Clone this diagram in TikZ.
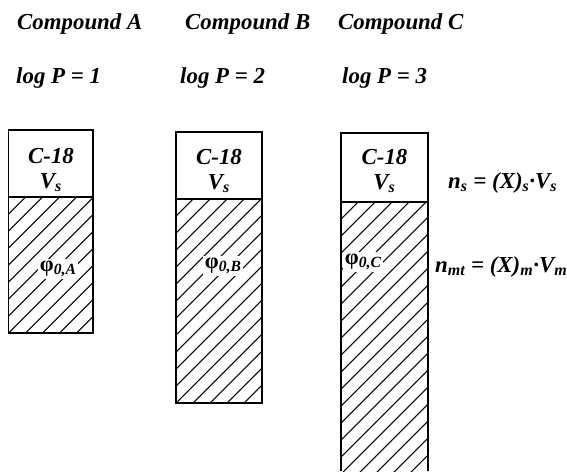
\documentclass[tikz,border=0pt]{standalone}
\usepackage{fontspec}
\setmainfont{Liberation Serif}
\usetikzlibrary{positioning}

\begin{document}
\begin{tikzpicture}[x=0.03cm, y=-0.03cm,
    every node/.style={font=\fontsize{19.5}{21}\selectfont\bfseries\itshape},
    head text/.style={anchor=base west, inner sep=0pt},
    cap box/.style={draw, line width=1.3pt},
    cap text/.style={align=center, inner sep=0pt},
    column side/.style={line width=1.3pt},
    hatch/.style={line width=0.9pt},
    phi label/.style={anchor=base west, fill=white, inner sep=1.5pt, font=\fontsize{19}{21}\selectfont\bfseries\itshape}]
    \useasboundingbox (0,0) rectangle (567,471);

    % headings
    \node[head text] (nameA) at (17,29) {Compound A};
    \node[head text] (nameB) at (185,29) {Compound B};
    \node[head text] (nameC) at (338,29) {Compound C};
    \node[head text] (logA) at (16,83) {log P = 1};
    \node[head text] (logB) at (180,83) {log P = 2};
    \node[head text] (logC) at (342,83) {log P = 3};

    % column A
    \begin{scope}
        \clip (8.7,197) rectangle (93,333);
        \foreach \k in {0,...,13}
            \draw[hatch] (8.7,197+17*\k) -- ++(86,-86);
    \end{scope}
    \draw[column side] (8.7,197) rectangle (93,333);
    \draw[cap box] (8.7,130) rectangle (93,197);
    \node[cap text] (capA) at (51,170) {C-18\\V\textsubscript{s}};
    \node[phi label] (phiA) at (38,271) {{\upshape φ}\textsubscript{0,A}};

    % column B
    \begin{scope}
        \clip (176,199) rectangle (262,403);
        \foreach \k in {0,...,17}
            \draw[hatch] (176,199+17*\k) -- ++(87,-87);
    \end{scope}
    \draw[column side] (176,199) rectangle (262,403);
    \draw[cap box] (176,132) rectangle (262,199);
    \node[cap text] (capB) at (219,171) {C-18\\V\textsubscript{s}};
    \node[phi label] (phiB) at (203,268) {{\upshape φ}\textsubscript{0,B}};

    % column C
    \begin{scope}
        \clip (341,202) rectangle (428,471);
        \foreach \k in {0,...,21}
            \draw[hatch] (341,202+17*\k) -- ++(88,-88);
    \end{scope}
    \draw[column side] (341,471) -- (341,202) -- (428,202) -- (428,471);
    \draw[cap box] (341,133) rectangle (428,202);
    \node[cap text] (capC) at (384.5,171) {C-18\\V\textsubscript{s}};
    \node[phi label] (phiC) at (343,264) {{\upshape φ}\textsubscript{0,C}};

    % amounts
    \node[head text] (ns) at (448,188) {n\textsubscript{s} = (X)\textsubscript{s}·V\textsubscript{s}};
    \node[head text] (nm) at (435,272) {n\textsubscript{mt} = (X)\textsubscript{m}·V\textsubscript{m}};
\end{tikzpicture}
\end{document}
